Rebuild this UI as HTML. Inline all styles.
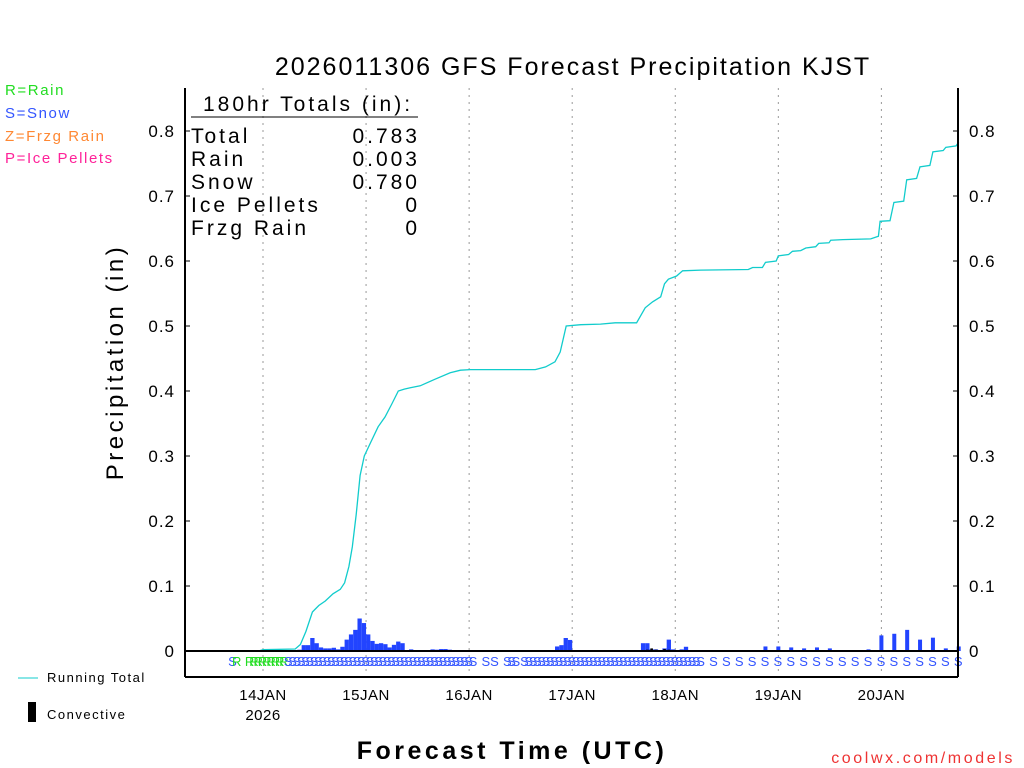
<!DOCTYPE html>
<html><head><meta charset="utf-8"><style>
html,body{margin:0;padding:0;background:#fff;}
svg{display:block;font-family:"Liberation Sans",sans-serif;}
</style></head><body>
<svg id="chart" width="1024" height="768" viewBox="0 0 1024 768">
<text x="573" y="75" text-anchor="middle" font-size="25" letter-spacing="2" fill="#000">2026011306 GFS Forecast Precipitation KJST</text>
<g font-size="15" letter-spacing="1.6">
<text x="5" y="95" fill="#22dd22">R=Rain</text>
<text x="5" y="118" fill="#3355ff">S=Snow</text>
<text x="5" y="141" fill="#ff8833">Z=Frzg Rain</text>
<text x="5" y="163" fill="#ff2299">P=Ice Pellets</text>
</g>
<text transform="translate(123,362) rotate(-90)" text-anchor="middle" font-size="24" letter-spacing="3.5">Precipitation (in)</text>
<text x="512" y="759" text-anchor="middle" font-size="25" font-weight="bold" letter-spacing="3.5">Forecast Time (UTC)</text>
<text x="1015" y="763" text-anchor="end" font-size="16" fill="#ee3333" letter-spacing="2.6">coolwx.com/models</text>
<g>
<line x1="18" y1="678" x2="38" y2="678" stroke="#11cccc" stroke-width="1"/>
<text x="47" y="682" font-size="13" letter-spacing="1.5">Running Total</text>
<rect x="28" y="702" width="8" height="20" fill="#000"/>
<text x="47" y="719" font-size="13" letter-spacing="1.5">Convective</text>
</g>
<g id="grid"></g>
<g id="bars"></g>
<g id="labels"></g>
<g id="axes"></g>
<g font-size="21" letter-spacing="3">
<text x="203" y="111">180hr Totals (in):</text>
<line x1="191" y1="117" x2="418" y2="117" stroke="#000" stroke-width="1"/>
<text x="191" y="143">Total</text><text x="420" y="143" text-anchor="end">0.783</text>
<text x="191" y="166">Rain</text><text x="420" y="166" text-anchor="end">0.003</text>
<text x="191" y="189">Snow</text><text x="420" y="189" text-anchor="end">0.780</text>
<text x="191" y="212">Ice Pellets</text><text x="420" y="212" text-anchor="end">0</text>
<text x="191" y="235">Frzg Rain</text><text x="420" y="235" text-anchor="end">0</text>
</g>
</svg>
<script>
const yTicks=[0,0.1,0.2,0.3,0.4,0.5,0.6,0.7,0.8];
const yTickLabels=["0","0.1","0.2","0.3","0.4","0.5","0.6","0.7","0.8"];
const dayHours=[18,42,66,90,114,138,162];
const dayLabels=["14JAN","15JAN","16JAN","17JAN","18JAN","19JAN","20JAN"];
const hourlyStart=27;
const hourlyValues=[0.002,0.009,0.009,0.02,0.012,0.0055,0.004,0.004,0.005,0.0025,0.0065,0.0175,0.0255,0.0325,0.05,0.043,0.0255,0.0155,0.011,0.012,0.0105,0.0055,0.0095,0.0145,0.012,0,0.0025,0.001,0.001,0.0005,0.0005,0.0025,0.002,0.003,0.003,0.002,0.001,0.001,0.001,0.001,0.001];
const hourly2Start=84;
const hourly2Values=[0.001,0.001,0.001,0.007,0.009,0.02,0.017,0,0,0,0,0,0,0,0,0.001,0,0,0,0,0,0,0,0.012,0.012,0.0025,0.0025,0.001,0.004,0.0175,0.0025,0,0.0025,0.0065];
const convHours=[108,109,110,112,113];
const convValues=[0.002,0.004,0.002,0.003,0.002];
const threeHours=[132,135,138,141,144,147,150,153,156,159,162,165,168,171,174,177,180];
const threeValues=[0.001,0.007,0.007,0.0055,0.004,0.0055,0.004,0,0.0005,0.0025,0.024,0.0265,0.0325,0.0175,0.0205,0.004,0.007];
const totalHours=[0,17,18,25.5,26.7,28,29.5,31,32.5,34.3,36,37,38,38.8,39.7,40.6,41.6,43,44.8,46.4,48,49.5,50.9,52.3,54.6,58,61.6,64,66.3,81.4,83.8,86,87.2,88.6,92,96.6,100,105,107,108.7,110.6,111.5,112.4,114.3,115.7,119.9,131,132,134.3,135,137.5,138,140.4,141.3,143.2,144.4,146.7,147.4,149.8,150.2,153,159.5,161.3,161.7,164,164.9,167.2,167.9,170.2,171,173.3,174,176.4,177,179.4,180];
const totalValues=[0,0,0.002,0.003,0.01,0.03,0.06,0.07,0.077,0.088,0.095,0.105,0.13,0.16,0.21,0.27,0.3,0.32,0.345,0.36,0.38,0.4,0.403,0.405,0.408,0.418,0.428,0.432,0.433,0.433,0.437,0.445,0.46,0.5,0.502,0.503,0.505,0.505,0.528,0.537,0.545,0.565,0.572,0.577,0.585,0.586,0.587,0.59,0.59,0.598,0.6,0.608,0.61,0.615,0.616,0.62,0.622,0.627,0.628,0.632,0.633,0.634,0.638,0.661,0.662,0.69,0.692,0.725,0.727,0.745,0.747,0.768,0.77,0.775,0.777,0.783];
const labelRanges=[[16,23,"R"],[24,67,"S"],[70,70,"S"],[72,72,"S"],[75,76,"S"],[77,77,"S"],[79,120,"S"]];
const labelSingles=[[11,"S"],[12,"R"],[15,"R"]];
const labelThreeHours=[123,126,129,132,135,138,141,144,147,150,153,156,159,162,165,168,171,174,177,180];

const NS="http://www.w3.org/2000/svg";
const X0=185.7,XS=773/180,Y0=651,YS=650;
const x=h=>X0+h*XS, y=v=>Y0-v*YS;
function mk(tag,attrs,parent){const e=document.createElementNS(NS,tag);for(const k in attrs)e.setAttribute(k,attrs[k]);parent.appendChild(e);return e;}
const grid=document.getElementById('grid'),bars=document.getElementById('bars'),labels=document.getElementById('labels'),axes=document.getElementById('axes');
dayHours.forEach((h,i)=>{
 const l=mk('line',{x1:x(h),x2:x(h),y1:88,y2:677,stroke:'#999','stroke-dasharray':'2,5'},grid);
 
 
 const t=mk('text',{x:x(h),y:700,'text-anchor':'middle','font-size':'15','letter-spacing':'0.5'},axes);t.textContent=dayLabels[i];
 
 
});
const yr=mk('text',{x:x(18),y:720,'text-anchor':'middle','font-size':'15','letter-spacing':'0.5'},axes);yr.textContent="2026";


yTicks.forEach((v,i)=>{
 const a=mk('text',{x:175,y:y(v)+6,'text-anchor':'end','font-size':'17','letter-spacing':'1'},axes);a.textContent=yTickLabels[i];
 
 
 const b=mk('text',{x:969,y:y(v)+6,'font-size':'17','letter-spacing':'1'},axes);b.textContent=yTickLabels[i];
 
 
 mk('line',{x1:185,x2:190,y1:y(v),y2:y(v),stroke:'#000'},axes);
 mk('line',{x1:953,x2:958,y1:y(v),y2:y(v),stroke:'#000'},axes);
});
function bar(x1,x2,v,color,name){const r=mk('rect',{x:x1,y:y(v),width:Math.max(x2-x1,1),height:v*YS,fill:color},bars);
 
 }
hourlyValues.forEach((v,i)=>{const h=hourlyStart+i;if(v>0)bar(x(h-1),x(h),v,'#2244ff','hourly-bar');});
hourly2Values.forEach((v,i)=>{const h=hourly2Start+i;if(v>0)bar(x(h-1),x(h),v,'#2244ff','hourly-bar');});
convValues.forEach((v,i)=>{const h=convHours[i];bar(x(h-0.8),x(h-0.2),v,'#000','convective-bar');});
threeValues.forEach((v,i)=>{const h=threeHours[i];if(v>0)bar(x(h)-2,x(h)+2,v,'#2244ff','three-hour-bar');});
let d='';totalHours.forEach((h,i)=>{d+=(i?'L':'M')+x(h).toFixed(1)+','+y(totalValues[i]).toFixed(1);});
const p=mk('path',{d:d,fill:'none',stroke:'#11cccc','stroke-width':'1.3'},bars);


function lab(h,t){const e=mk('text',{x:x(h)-0.5,y:666,'text-anchor':'middle','font-size':'13',fill:t=='R'?'#22dd22':'#3355ff'},labels);e.textContent=t;
 
 }
labelSingles.forEach(s=>lab(s[0],s[1]));
labelRanges.forEach(r=>{for(let h=r[0];h<=r[1];h++)lab(h,r[2]);});
labelThreeHours.forEach(h=>lab(h,'S'));
mk('line',{x1:185,x2:958,y1:651,y2:651,stroke:'#000','stroke-width':'2'},axes);
mk('line',{x1:185,x2:185,y1:88,y2:677,stroke:'#000','stroke-width':'2'},axes);
mk('line',{x1:958,x2:958,y1:88,y2:677,stroke:'#000','stroke-width':'2'},axes);
mk('line',{x1:185,x2:958,y1:677,y2:677,stroke:'#000','stroke-width':'2'},axes);
</script>
</body></html>
